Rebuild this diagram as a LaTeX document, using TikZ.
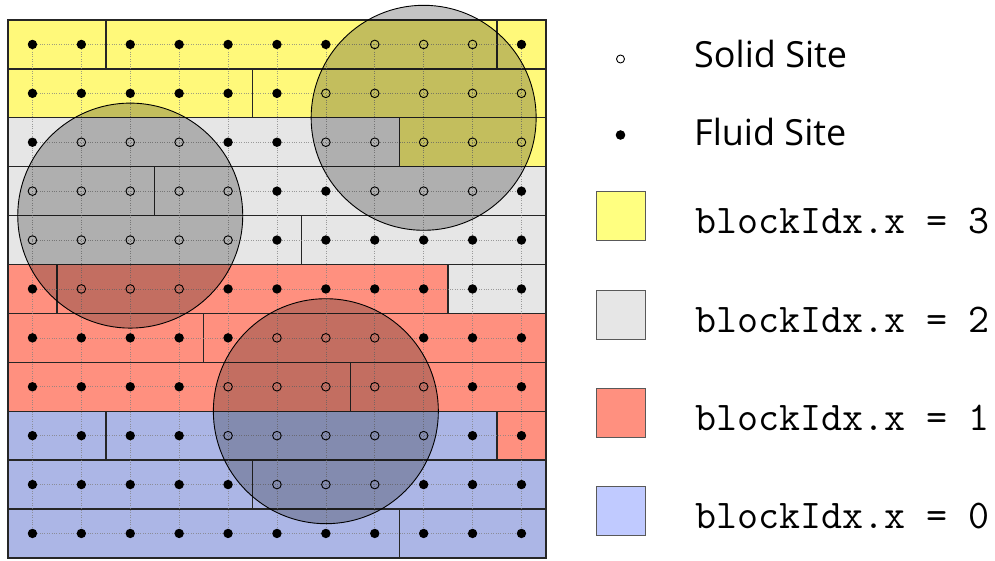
\documentclass[tikz,border=0pt]{standalone}
\usepackage{fontspec}
\newfontfamily\labelfont{Open Sans}
\definecolor{blkyellow}{RGB}{255,249,122}
\definecolor{blkgray}{RGB}{230,230,230}
\definecolor{blkred}{RGB}{255,144,127}
\definecolor{blkblue}{RGB}{172,182,230}
\definecolor{keyyellow}{RGB}{255,255,128}
\definecolor{keygray}{RGB}{230,230,230}
\definecolor{keyred}{RGB}{255,144,127}
\definecolor{keyblue}{RGB}{192,202,255}
\definecolor{edge}{RGB}{38,38,38}
\tikzset{
  warp/.style={draw=edge, line width=1.4pt},
  gridline/.style={gray, opacity=0.75, line width=0.6pt, dash pattern=on 0.8pt off 1.6pt},
  fluidsite/.style={fill=black},
  solidsite/.style={draw=black, line width=0.9pt},
  obstacle/.style={fill=black, fill opacity=0.235, draw=black, line width=0.9pt},
  keybox/.style={draw=black!65, line width=1pt},
  keytext/.style={anchor=base west, inner sep=0pt, font=\labelfont\fontsize{36}{40}\selectfont},
  codetext/.style={anchor=base west, inner sep=0pt, font=\ttfamily\fontsize{40.8}{45}\selectfont},
}
% cell size and origin of the lattice (in px-like points)
\def\cs{48.9}
\def\gx{8}
\def\gy{20}
\begin{document}
\begin{tikzpicture}[x=1pt, y=-1pt]
\useasboundingbox (0,0) rectangle (995,561);

% thread-block strips: row, first column, last column + 1, colour
\foreach \r/\a/\b/\c in {
  0/0/2/blkyellow, 0/2/10/blkyellow, 0/10/11/blkyellow,
  1/0/5/blkyellow, 1/5/11/blkyellow,
  2/0/8/blkgray, 2/8/11/blkyellow,
  3/0/3/blkgray, 3/3/11/blkgray,
  4/0/6/blkgray, 4/6/11/blkgray,
  5/0/1/blkred, 5/1/9/blkred, 5/9/11/blkgray,
  6/0/4/blkred, 6/4/11/blkred,
  7/0/7/blkred, 7/7/11/blkred,
  8/0/2/blkblue, 8/2/10/blkblue, 8/10/11/blkred,
  9/0/5/blkblue, 9/5/11/blkblue,
  10/0/8/blkblue, 10/8/11/blkblue}
  \filldraw[warp, fill=\c] ({\gx+\a*\cs},{\gy+\r*\cs}) rectangle ({\gx+\b*\cs},{\gy+(\r+1)*\cs});

% lattice lines through the sites
\foreach \k in {0,...,10} {
  \draw[gridline] ({\gx+0.5*\cs},{\gy+(\k+0.5)*\cs}) -- ({\gx+10.5*\cs},{\gy+(\k+0.5)*\cs});
  \draw[gridline] ({\gx+(\k+0.5)*\cs},{\gy+0.5*\cs}) -- ({\gx+(\k+0.5)*\cs},{\gy+10.5*\cs});
}

% lattice sites: hollow inside an obstacle, filled elsewhere
\foreach \i in {0,...,10} {
  \foreach \j in {0,...,10} {
    \pgfmathtruncatemacro\issolid{((\i-8)^2+(\j-1.5)^2<5.29) || ((\i-2)^2+(\j-3.5)^2<5.29) || ((\i-6)^2+(\j-7.5)^2<5.29)}
    \ifnum\issolid=1
      \draw[solidsite] ({\gx+(\i+0.5)*\cs},{\gy+(\j+0.5)*\cs}) circle[radius=4.3];
    \else
      \fill[fluidsite] ({\gx+(\i+0.5)*\cs},{\gy+(\j+0.5)*\cs}) circle[radius=4.7];
    \fi
  }
}

% outer frame of the lattice
\draw[edge, line width=2.4pt] (\gx,\gy) rectangle ({\gx+11*\cs},{\gy+11*\cs});

% circular obstacles
\foreach \ci/\cj in {8/1.5, 2/3.5, 6/7.5}
  \draw[obstacle] ({\gx+(\ci+0.5)*\cs},{\gy+(\cj+0.5)*\cs}) circle[radius=112.5];

% legend
\draw[solidsite] (620.5,59) circle[radius=4];
\node[keytext] (solidlbl) at (694,68) {Solid Site};
\fill[fluidsite] (620.5,135) circle[radius=4.8];
\node[keytext] (fluidlbl) at (694,146) {Fluid Site};

\filldraw[keybox, fill=keyyellow] (596,192) rectangle (645,241);
\filldraw[keybox, fill=keygray]   (596,290) rectangle (645,339);
\filldraw[keybox, fill=keyred]    (596,388) rectangle (645,437);
\filldraw[keybox, fill=keyblue]   (596,486) rectangle (645,535);

\node[codetext] (blk3) at (695,234) {blockIdx.x = 3};
\node[codetext] (blk2) at (695,332) {blockIdx.x = 2};
\node[codetext] (blk1) at (695,430) {blockIdx.x = 1};
\node[codetext] (blk0) at (695,528) {blockIdx.x = 0};
\end{tikzpicture}
\end{document}
